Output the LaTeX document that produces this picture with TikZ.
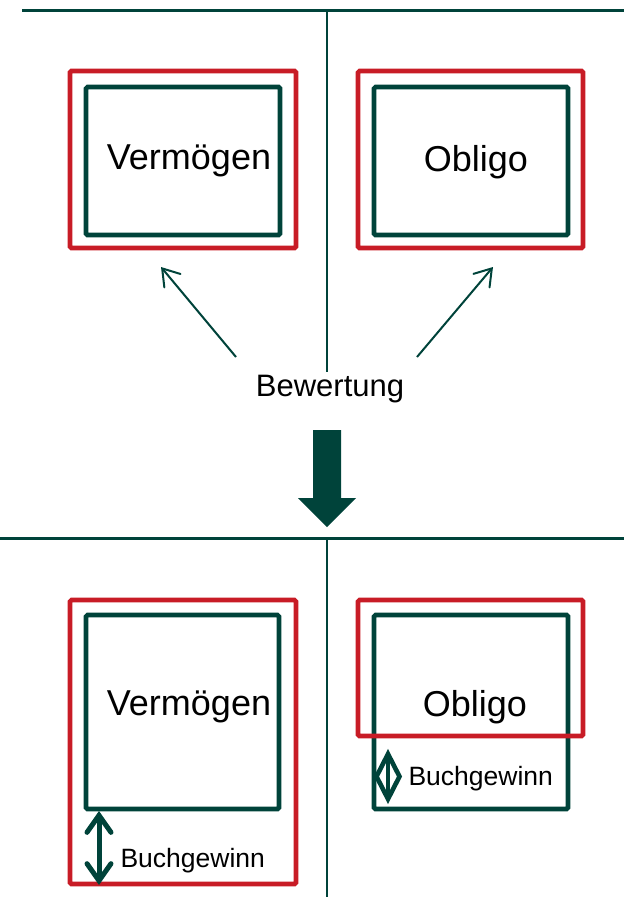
\documentclass[tikz,border=0pt]{standalone}
\usepackage{fontspec}
\setmainfont{Liberation Sans}
\usetikzlibrary{arrows.meta}
\definecolor{tannengruen}{RGB}{0,67,58}
\definecolor{signalrot}{RGB}{200,28,38}
\tikzset{
  gruenbox/.style={draw=tannengruen, line width=4.6pt, rounded corners=1.5pt, inner sep=0pt},
  rotbox/.style={draw=signalrot, line width=4.6pt, rounded corners=1.5pt, inner sep=0pt},
  gross/.style={font=\fontsize{36}{40}\selectfont},
  mittel/.style={font=\fontsize{31}{35}\selectfont},
  klein/.style={font=\fontsize{26.5}{30}\selectfont},
  duennpfeil/.style={draw=tannengruen, line width=2pt,
    -{Straight Barb[length=16pt,width=21pt,line cap=round]}},
  doppelpfeil/.style={draw=tannengruen, line width=5pt,
    {Straight Barb[length=17pt,width=24pt,line cap=round]}-{Straight Barb[length=17pt,width=24pt,line cap=round]}}
}
\begin{document}
\begin{tikzpicture}[x=1pt,y=-1pt]
  \useasboundingbox (0,0) rectangle (624,897);
  % Trennlinien
  \draw[tannengruen, line width=3pt] (22,10) -- (624,10);
  \draw[tannengruen, line width=2pt] (327,10) -- (327,372);
  \draw[tannengruen, line width=3pt] (0,538) -- (624,538);
  \draw[tannengruen, line width=2pt] (327,538) -- (327,897);

  % vorher
  \node[rotbox, minimum width=226, minimum height=177] (rahmenVA) at (183,159.5) {};
  \node[gruenbox, minimum width=194, minimum height=148] (vermA) at (183,161) {};
  \node[gross] at (189,161) {Vermögen};
  \node[rotbox, minimum width=225, minimum height=177] (rahmenOA) at (470.5,159.5) {};
  \node[gruenbox, minimum width=194, minimum height=148] (obliA) at (471,161) {};
  \node[gross] at (476,162) {Obligo};

  \node[mittel] (bewertung) at (330,389) {Bewertung};
  \coordinate (bwL) at (236,357);
  \coordinate (bwR) at (417,357);
  \coordinate (spitzeL) at (161,267);
  \coordinate (spitzeR) at (493,267);
  \draw[duennpfeil] (bwL) -- (spitzeL);
  \draw[duennpfeil] (bwR) -- (spitzeR);

  % Blockpfeil
  \fill[tannengruen] (313,430) -- (341,430) -- (341,498) -- (356,498)
    -- (327,527) -- (298,498) -- (313,498) -- cycle;

  % nachher
  \node[rotbox, minimum width=226, minimum height=284] (rahmenVB) at (183,742) {};
  \node[gruenbox, minimum width=193, minimum height=194] (vermB) at (182.5,712) {};
  \node[gross] at (189,707) {Vermögen};
  \node[gruenbox, minimum width=194, minimum height=194] (obliB) at (471,712) {};
  \node[rotbox, minimum width=225, minimum height=136] (rahmenOB) at (470.5,668) {};
  \node[gross] at (475,707) {Obligo};

  \coordinate (bgL1) at (99,811);
  \coordinate (bgL2) at (99,885);
  \draw[doppelpfeil] (bgL1) -- (bgL2);
  \node[klein, anchor=base west] (gewinnL) at (117,867) {Buchgewinn};

  \draw[tannengruen, line width=4.6pt, line join=miter]
    (388,754) -- (399.5,776.5) -- (388,799) -- (376.5,776.5) -- cycle;
  \draw[tannengruen, line width=4pt] (388,754) -- (388,799);
  \node[klein, anchor=base west] (gewinnR) at (405,785) {Buchgewinn};
\end{tikzpicture}
\end{document}
